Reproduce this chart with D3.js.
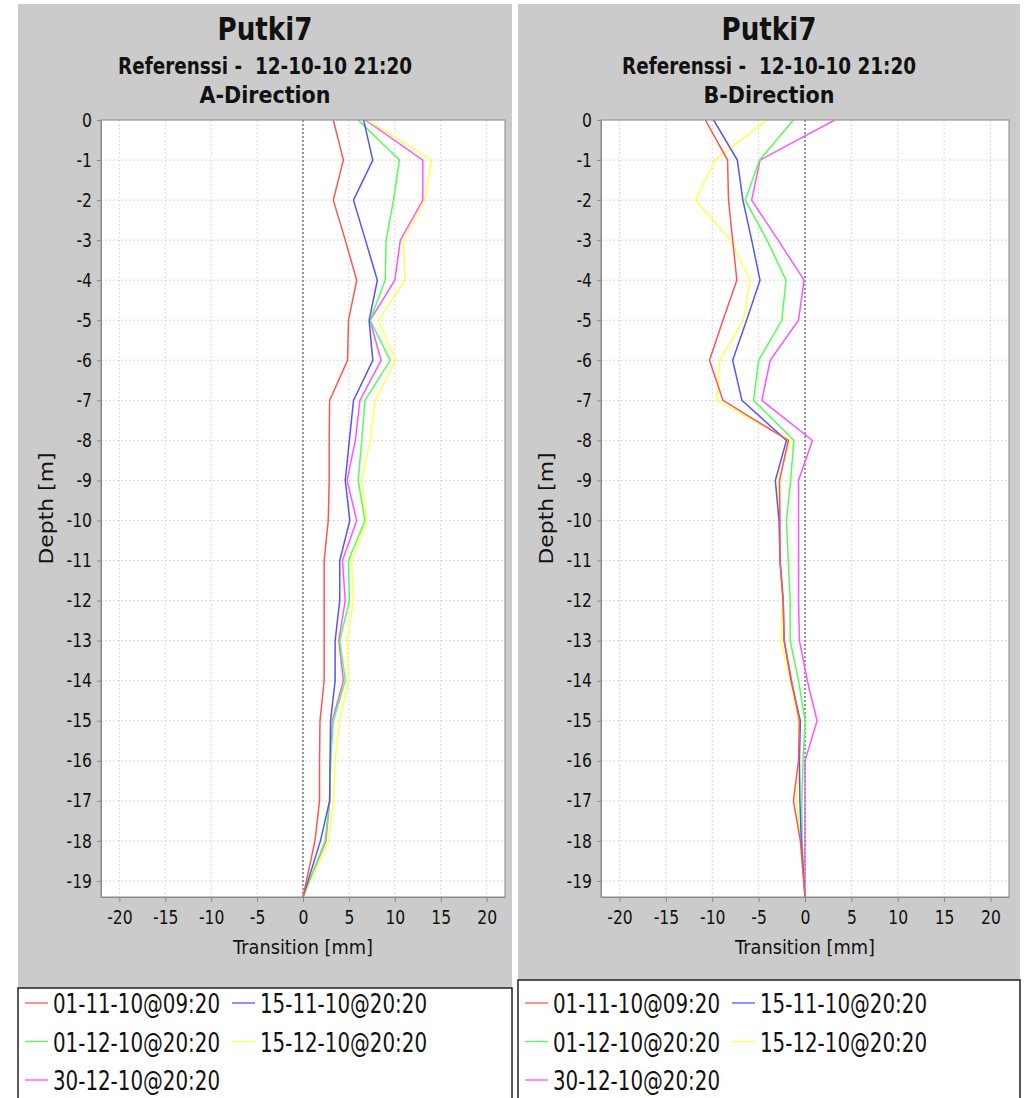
<!DOCTYPE html>
<html>
<head>
<meta charset="utf-8">
<script src="https://cdn.jsdelivr.net/npm/d3@7"></script>
<style>
body { margin: 0; background: #fff; }
text { font-family: "DejaVu Sans", sans-serif; fill: #111; }
</style>
</head>
<body>
<script>
var w = 1024;
var h = 1098;

// depth of each reading, metres (last one is the pipe bottom)
var depths = [0, -1, -2, -3, -4, -5, -6, -7, -8, -9, -10, -11, -12, -13, -14, -15, -16, -17, -18, -19.4];

var seriesNames = ["01-11-10@09:20", "15-11-10@20:20", "01-12-10@20:20", "15-12-10@20:20", "30-12-10@20:20"];
var seriesColors = ["#ff5555", "#5555ff", "#55ff55", "#ffff55", "#ff55ff"];

// A-direction transitions (mm)
var aRed     = [3.3, 4.4, 3.3, 4.6, 5.85, 4.95, 4.85, 2.9, 2.85, 2.85, 2.75, 2.3, 2.3, 2.3, 2.3, 1.85, 1.8, 1.8, 1.3, 0];
var aBlue    = [6.6, 7.6, 5.5, 6.8, 8.1, 7.2, 7.6, 5.5, 5.05, 4.6, 5.1, 4.0, 4.0, 3.5, 3.5, 3.0, 2.95, 2.9, 1.9, 0];
var aGreen   = [6.0, 10.5, 9.85, 9.05, 8.95, 7.3, 9.5, 6.75, 6.4, 6.0, 6.75, 4.95, 5.05, 4.0, 4.6, 3.3, 3.0, 2.9, 2.4, 0];
var aYellow  = [7.0, 14.0, 13.3, 10.9, 11.1, 8.2, 10.1, 7.85, 7.3, 6.4, 6.9, 5.3, 5.5, 4.8, 4.95, 4.0, 3.5, 3.3, 2.8, 0];
var aMagenta = [6.8, 13.05, 13.05, 10.6, 10.0, 7.3, 8.5, 6.2, 5.7, 4.8, 5.85, 4.3, 4.6, 3.9, 4.4, 3.2, 3.0, 2.9, 2.5, 0];

// B-direction transitions (mm)
var bRed     = [-10.75, -8.35, -8.25, -7.8, -7.35, -8.85, -10.3, -8.85, -1.8, -2.75, -2.7, -2.7, -2.35, -2.25, -1.45, -0.6, -0.7, -1.25, -0.5, 0];
var bBlue    = [-9.85, -7.3, -6.7, -5.75, -4.85, -6.3, -7.8, -6.8, -2.0, -3.2, -2.8, -2.7, -2.35, -2.25, -1.5, -0.5, -0.6, -0.55, -0.4, 0];
var bGreen   = [-1.25, -4.9, -6.45, -4.1, -2.05, -2.5, -5.0, -5.55, -1.2, -1.55, -2.0, -1.8, -1.6, -1.6, -0.7, 0, -0.2, -0.35, -0.3, 0];
var bYellow  = [-4.1, -9.7, -11.8, -8.05, -5.9, -6.65, -9.2, -9.5, -1.6, -2.9, -2.75, -2.7, -2.4, -2.6, -1.6, -0.7, -0.6, -0.9, -0.5, 0];
var bMagenta = [3.2, -4.85, -5.75, -2.9, -0.1, -0.7, -3.75, -4.65, 0.8, -0.7, -0.7, -0.7, -0.7, -0.6, 0.25, 1.3, 0, 0, 0, 0];

var xTicks = [-20, -15, -10, -5, 0, 5, 10, 15, 20];
var yTicks = [0, -1, -2, -3, -4, -5, -6, -7, -8, -9, -10, -11, -12, -13, -14, -15, -16, -17, -18, -19];

var chartTitle = "Putki7";
var chartSubtitle = "Referenssi -  12-10-10 21:20";

var svg = d3.select("body")
    .append("svg")
    .attr("width", w)
    .attr("height", h);

// squeeze text horizontally (the original chart is narrow and tall)
function squeeze(sel, factor) {
    sel.each(function () {
        var len = this.getComputedTextLength();
        d3.select(this)
            .attr("textLength", len * factor)
            .attr("lengthAdjust", "spacingAndGlyphs");
    });
}

function drawPanel(p) {
    var g = svg.append("g");
    var top = 120, bottom = 897;

    g.append("rect")
        .attr("x", p.x0)
        .attr("y", 4)
        .attr("width", p.x1 - p.x0)
        .attr("height", p.bgBottom - 4)
        .attr("fill", "#cbcbcb");

    var xScale = d3.scaleLinear().domain([-22, 22]).range([p.left, p.right]);
    var yScale = d3.scaleLinear().domain([-19.4, 0]).range([bottom, top]);

    g.append("rect")
        .attr("x", p.left)
        .attr("y", top)
        .attr("width", p.right - p.left)
        .attr("height", bottom - top)
        .attr("fill", "#fff");

    // grid
    g.selectAll(".vgrid")
        .data(xTicks)
        .enter()
        .append("line")
        .attr("x1", function (d) { return xScale(d); })
        .attr("x2", function (d) { return xScale(d); })
        .attr("y1", top)
        .attr("y2", bottom)
        .attr("stroke", "#cfcfcf")
        .attr("stroke-width", 0.8)
        .attr("stroke-dasharray", "2,2");

    g.selectAll(".hgrid")
        .data(yTicks)
        .enter()
        .append("line")
        .attr("x1", p.left)
        .attr("x2", p.right)
        .attr("y1", function (d) { return yScale(d); })
        .attr("y2", function (d) { return yScale(d); })
        .attr("stroke", "#cfcfcf")
        .attr("stroke-width", 0.8)
        .attr("stroke-dasharray", "2,2");

    // zero marker
    g.append("line")
        .attr("x1", xScale(0))
        .attr("x2", xScale(0))
        .attr("y1", top)
        .attr("y2", bottom)
        .attr("stroke", "#444")
        .attr("stroke-width", 1)
        .attr("stroke-dasharray", "2,2");

    var clipId = "clip" + p.key;
    svg.append("clipPath")
        .attr("id", clipId)
        .append("rect")
        .attr("x", p.left)
        .attr("y", top)
        .attr("width", p.right - p.left)
        .attr("height", bottom - top);

    var line = d3.line()
        .x(function (d) { return xScale(d[0]); })
        .y(function (d) { return yScale(d[1]); });

    // first series is painted last (on top)
    for (var i = p.series.length - 1; i >= 0; i--) {
        var pts = p.series[i].map(function (v, j) { return [v, depths[j]]; });
        g.append("path")
            .attr("d", line(pts))
            .attr("fill", "none")
            .attr("stroke", seriesColors[i])
            .attr("stroke-width", 1.5)
            .attr("clip-path", "url(#" + clipId + ")");
    }

    g.append("rect")
        .attr("x", p.left)
        .attr("y", top)
        .attr("width", p.right - p.left)
        .attr("height", bottom - top)
        .attr("fill", "none")
        .attr("stroke", "#8a8a8a")
        .attr("stroke-width", 1);

    var yAxis = d3.axisLeft(yScale)
        .tickValues(yTicks)
        .tickSize(4)
        .tickSizeOuter(0)
        .tickPadding(5)
        .tickFormat(function (d) { return String(d); });

    var xAxis = d3.axisBottom(xScale)
        .tickValues(xTicks)
        .tickSize(5)
        .tickSizeOuter(0)
        .tickPadding(9)
        .tickFormat(function (d) { return String(d); });

    var ya = g.append("g")
        .attr("transform", "translate(" + p.left + ",0)")
        .call(yAxis);
    var xa = g.append("g")
        .attr("transform", "translate(0," + bottom + ")")
        .call(xAxis);

    [ya, xa].forEach(function (a) {
        a.select(".domain").attr("stroke", "#8a8a8a");
        a.selectAll(".tick line").attr("stroke", "#8a8a8a");
        a.selectAll(".tick text")
            .attr("font-family", "DejaVu Sans")
            .attr("font-size", 19)
            .attr("fill", "#111");
        squeeze(a.selectAll(".tick text"), 0.82);
    });

    var cx = (p.x0 + p.x1) / 2;

    g.append("text")
        .attr("x", cx)
        .attr("y", 40)
        .attr("text-anchor", "middle")
        .attr("font-size", 32)
        .attr("font-weight", "bold")
        .attr("textLength", 95)
        .attr("lengthAdjust", "spacingAndGlyphs")
        .text(chartTitle);

    g.append("text")
        .attr("x", cx)
        .attr("y", 74)
        .attr("text-anchor", "middle")
        .attr("font-size", 23)
        .attr("font-weight", "bold")
        .attr("textLength", 294)
        .attr("lengthAdjust", "spacingAndGlyphs")
        .style("white-space", "pre")
        .text(chartSubtitle);

    g.append("text")
        .attr("x", cx)
        .attr("y", 103)
        .attr("text-anchor", "middle")
        .attr("font-size", 23)
        .attr("font-weight", "bold")
        .attr("textLength", 131)
        .attr("lengthAdjust", "spacingAndGlyphs")
        .text(p.direction);

    g.append("text")
        .attr("x", (p.left + p.right) / 2)
        .attr("y", 954)
        .attr("text-anchor", "middle")
        .attr("font-size", 20)
        .attr("textLength", 140)
        .attr("lengthAdjust", "spacingAndGlyphs")
        .text("Transition [mm]");

    g.append("text")
        .attr("transform", "translate(" + p.depthX + "," + ((top + bottom) / 2) + ") rotate(-90)")
        .attr("text-anchor", "middle")
        .attr("font-size", 19)
        .attr("textLength", 112)
        .attr("lengthAdjust", "spacingAndGlyphs")
        .text("Depth [m]");

    // legend
    g.append("rect")
        .attr("x", p.x0)
        .attr("y", p.legendTop)
        .attr("width", p.legendRight - p.x0)
        .attr("height", h - p.legendTop + 10)
        .attr("fill", "#fff")
        .attr("stroke", "#222")
        .attr("stroke-width", 1.5);

    var items = g.selectAll(".legend-item")
        .data(seriesNames)
        .enter()
        .append("g")
        .attr("transform", function (d, i) {
            var col = i % 2, row = Math.floor(i / 2);
            return "translate(" + (p.x0 + 7 + col * 207) + "," + (1013 + row * 38.5) + ")";
        });

    items.append("line")
        .attr("x1", 0)
        .attr("x2", 23)
        .attr("y1", -10)
        .attr("y2", -10)
        .attr("stroke", function (d, i) { return seriesColors[i]; })
        .attr("stroke-width", 1.3);

    items.append("text")
        .attr("x", 28)
        .attr("y", 0)
        .attr("font-size", 27)
        .attr("fill", "#333")
        .attr("textLength", 167)
        .attr("lengthAdjust", "spacingAndGlyphs")
        .text(function (d) { return d; });
}

drawPanel({
    key: "A",
    direction: "A-Direction",
    x0: 18, x1: 512, bgBottom: 988,
    left: 101, right: 505,
    depthX: 53,
    legendTop: 988, legendRight: 512,
    series: [aRed, aBlue, aGreen, aYellow, aMagenta]
});

drawPanel({
    key: "B",
    direction: "B-Direction",
    x0: 518, x1: 1020, bgBottom: 980,
    left: 601, right: 1009,
    depthX: 553,
    legendTop: 980, legendRight: 1020,
    series: [bRed, bBlue, bGreen, bYellow, bMagenta]
});
</script>
</body>
</html>
